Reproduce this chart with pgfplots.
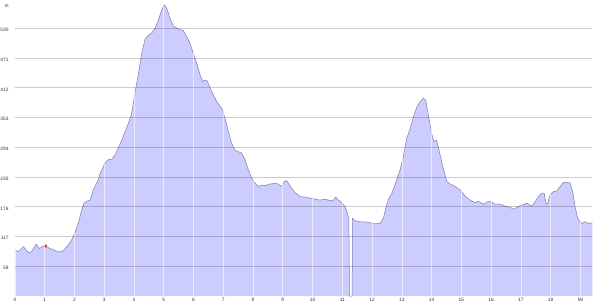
\documentclass[border=0pt]{standalone}
\usepackage{pgfplots}
\pgfplotsset{compat=1.18}
\usepackage{pgfplotstable}
\usepackage{fontspec}
\setmainfont{Liberation Sans}
\usetikzlibrary{calc}
\definecolor{areafill}{RGB}{204,204,255}
\definecolor{arealine}{RGB}{125,125,170}
\definecolor{labelgray}{RGB}{50,50,50}
\definecolor{dotred}{RGB}{210,50,50}

\pgfplotstableread{
mi m
0 91
0.11 88
0.28 98
0.45 86
0.56 88
0.71 103
0.82 94
0.95 99
1.03 99
1.18 94
1.29 92
1.38 89
1.51 87
1.62 90
1.79 101
1.91 112
2.02 127
2.13 145
2.24 170
2.32 184
2.41 188
2.52 190
2.63 210
2.71 220
2.80 230
2.86 243
3.03 264
3.14 271
3.25 271
3.36 279
3.47 293
3.59 309
3.70 326
3.81 342
3.92 362
4.03 402
4.15 441
4.26 481
4.37 509
4.48 517
4.59 521
4.71 531
4.82 547
4.93 567
5.02 577
5.10 570
5.21 550
5.32 535
5.49 529
5.66 526
5.77 514
5.88 501
5.99 481
6.11 461
6.22 438
6.31 425
6.39 428
6.46 426
6.61 405
6.78 385
6.95 372
7.06 352
7.17 326
7.28 303
7.39 289
7.51 286
7.62 283
7.73 270
7.84 250
7.96 233
8.07 223
8.18 217
8.29 220
8.40 219
8.57 222
8.74 223
8.85 222
8.96 217
9.08 229
9.15 227
9.30 213
9.41 205
9.58 197
9.75 196
9.92 194
10.08 192
10.25 190
10.42 192
10.59 189
10.70 190
10.78 196
10.87 190
10.98 185
11.09 177
11.17 164
11.22 151
11.24 0
11.33 0
11.34 154
11.43 149
11.60 147
11.76 147
11.93 145
12.10 143
12.27 144
12.38 154
12.47 177
12.55 192
12.66 203
12.77 220
12.88 240
12.94 250
13.05 276
13.16 312
13.28 332
13.39 355
13.50 374
13.61 385
13.72 392
13.80 388
13.89 359
14.00 322
14.08 306
14.17 309
14.26 286
14.38 256
14.51 227
14.62 222
14.79 217
14.96 210
15.13 198
15.29 190
15.46 185
15.57 188
15.74 182
15.88 187
15.99 187
16.13 182
16.30 182
16.47 178
16.64 176
16.75 172
16.86 176
17.03 180
17.20 184
17.37 178
17.48 187
17.59 197
17.71 204
17.78 204
17.85 182
17.90 184
17.98 200
18.09 207
18.20 208
18.32 217
18.43 225
18.54 225
18.66 224
18.75 204
18.82 177
18.91 154
19.04 144
19.16 147
19.27 144
19.40 145
}\profile

\begin{document}
\begin{tikzpicture}
\begin{axis}[
  scale only axis, width=577.3pt, height=296pt,
  xmin=0, xmax=19.4, ymin=0, ymax=586.7,
  axis on top,
  clip mode=individual,
  axis line style={draw=none},
  major tick length=0pt,
  xtick={0,1,2,3,4,5,6,7,8,9,10,11,12,13,14,15,16,17,18,19},
  xticklabels={0,1,2,3,4,5,6,7,8,9,10,11,12,13,14,15,16,17,18,Mi},
  ytick={58.9,117.8,176.7,235.6,294.5,353.4,412.3,471.2,530.1},
  yticklabels={58,117,176,235,294,353,412,471,530},
  xmajorgrids, ymajorgrids,
  x grid style={white, opacity=0.6, line width=0.7pt},
  y grid style={black, opacity=0.2, line width=1pt},
  ticklabel style={font=\fontsize{4.8}{5.5}\selectfont, text=labelgray, inner sep=0pt},
  xticklabel style={anchor=north, yshift=-1.8pt},
  yticklabel style={anchor=east, xshift=-6.3pt, yshift=-1.5pt},
  /pgf/number format/assume math mode=true,
]
\addplot[fill=areafill, draw=none] table[x=mi, y=m] {\profile} \closedcycle;
\addplot[draw=arealine, line width=0.5pt, line join=round] table[x=mi, y=m] {\profile};
\addplot[only marks, mark=*, mark size=1.4pt, color=dotred] coordinates {(1.03,99)};
\node[font=\fontsize{4.8}{5.5}\selectfont, text=labelgray, inner sep=0pt, anchor=center, xshift=-8.3pt] at (axis cs:0,575) {m};
\end{axis}
\pgfresetboundingbox
\path ($(current axis.south west)+(-15pt,-7pt)$) rectangle ($(current axis.north east)+(7.7pt,0pt)$);
\end{tikzpicture}
\end{document}
